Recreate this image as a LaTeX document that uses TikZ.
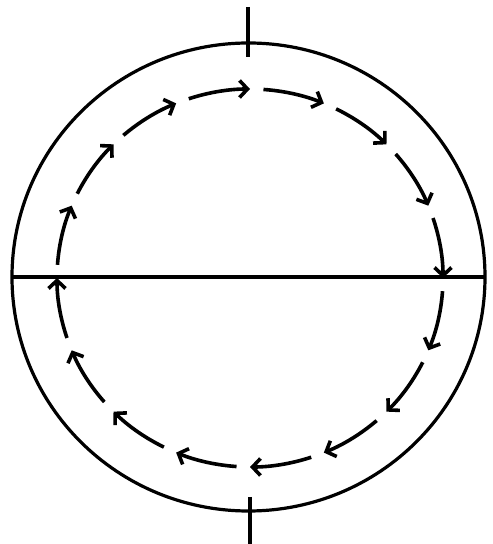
\documentclass[tikz,border=0pt]{standalone}
\usetikzlibrary{arrows.meta}
\begin{document}
\begin{tikzpicture}[x=1pt,y=1pt,
  solidline/.style={line width=3.2pt,black},
  flowarc/.style={line width=3.6pt,black,-{Straight Barb[length=8pt,width=17pt]}}]
\useasboundingbox (0,0) rectangle (493,544);
\fill[white] (0,0) rectangle (493,544);
\coordinate (oc) at (248.5,267);
\coordinate (ic) at (250,266);
\draw[solidline] (oc) ellipse[x radius=236.5, y radius=234];
\coordinate (hl) at (12,267);
\coordinate (hr) at (485,267);
\draw[solidline] (hl) -- (hr);
\coordinate (vt1) at (248,537);
\coordinate (vt2) at (248,487);
\draw[solidline] (vt1) -- (vt2);
\coordinate (vb1) at (250,47);
\coordinate (vb2) at (250,0);
\draw[solidline] (vb1) -- (vb2);
\foreach \k in {0,...,15}{
  \pgfmathsetmacro{\th}{90-22.5*\k-4}
  \pgfmathsetmacro{\te}{90-22.5*(\k+1)}
  \draw[flowarc] ([shift={(\th:193 and 189)}]ic) arc[start angle=\th, end angle=\te, x radius=193, y radius=189];
}
\end{tikzpicture}
\end{document}
